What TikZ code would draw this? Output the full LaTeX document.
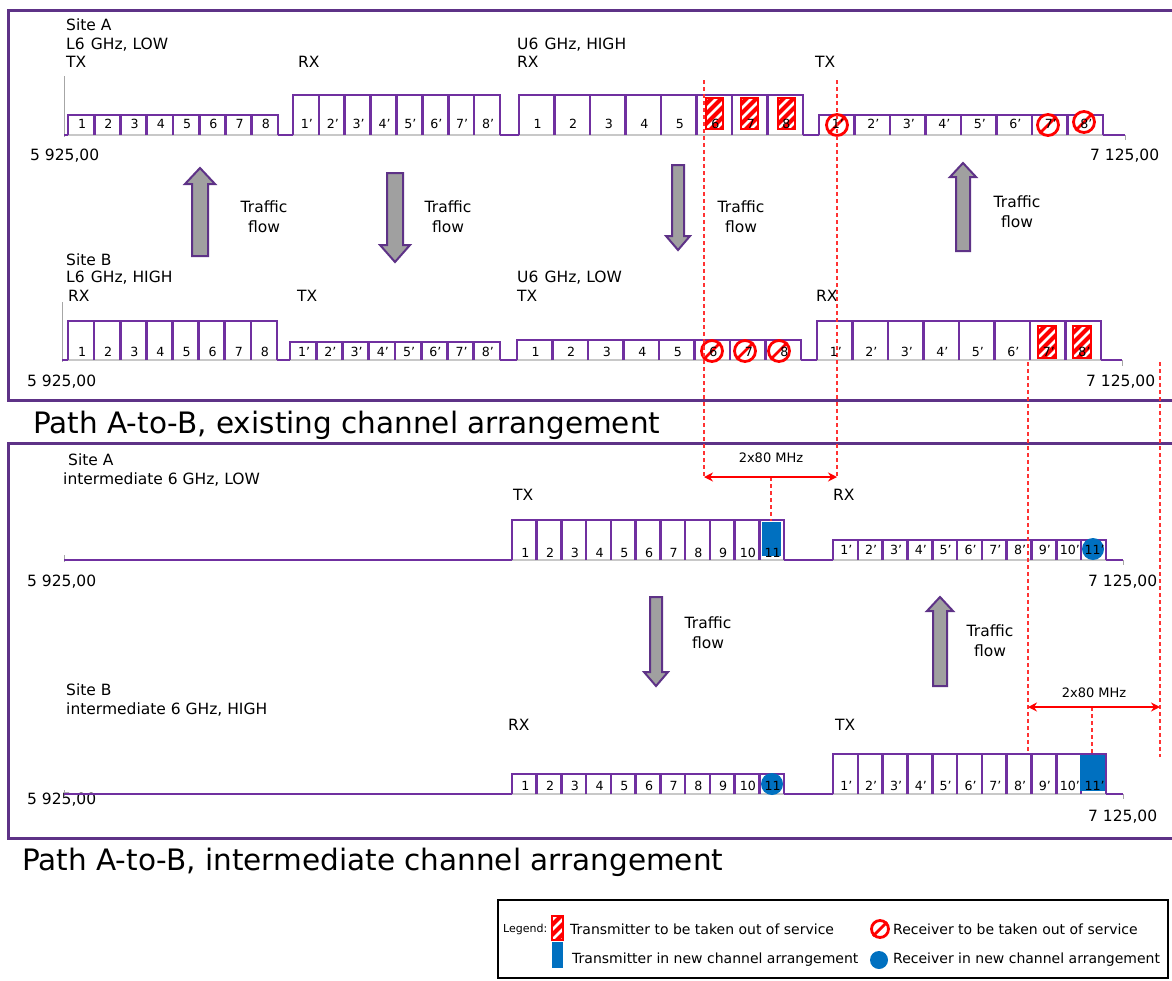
\documentclass[tikz,border=0pt]{standalone}
\usepackage{fontspec}
\setmainfont{DejaVu Sans}
\usetikzlibrary{arrows.meta}
\definecolor{chpurple}{HTML}{7030A0}
\definecolor{frpurple}{HTML}{5E3287}
\definecolor{axgray}{HTML}{C8C8C8}
\definecolor{arrgray}{HTML}{A0A0A0}
\definecolor{nblue}{HTML}{0070C0}
\pgfdeclarelayer{fg}
\pgfsetlayers{main,fg}
\tikzset{
  chan/.style={draw=chpurple, line width=2.6pt, line join=miter},
  axis/.style={draw=axgray, line width=2pt},
  tick/.style={draw=gray!70, line width=1pt},
  frame/.style={draw=frpurple, line width=3pt},
  lbl/.style={anchor=west, inner sep=0pt, font=\fontsize{15.5}{18}\selectfont},
  chlab/.style={anchor=base, inner sep=0pt, font=\fontsize{12.6}{15}\selectfont},
  title/.style={anchor=west, inner sep=0pt, font=\fontsize{29.5}{34}\selectfont},
  flowtxt/.style={align=center, inner sep=0pt, font=\fontsize{15.5}{20}\selectfont},
  flowarr/.style={fill=arrgray, draw=frpurple, line width=2pt, line join=miter},
  reddash/.style={draw=red!80!white, line width=1.3pt, dash pattern=on 4pt off 3pt},
  redarr/.style={draw=red, line width=1.6pt, {Stealth[length=9pt,width=9pt]}-{Stealth[length=9pt,width=9pt]}},
  mhz/.style={inner sep=0pt, font=\fontsize{13}{15}\selectfont},
  leg/.style={anchor=west, inner sep=0pt, font=\fontsize{14}{16}\selectfont},
}
% channel group: name, left, right, top, base, n, label y, prime
\newcommand{\chgroup}[8]{%
  \draw[chan] (#2,#5) -- (#2,#4) -- (#3,#4) -- (#3,#5);
  \pgfmathsetmacro{\cw}{(#3-#2)/#6}
  \foreach \k in {1,...,#6} {
    \pgfmathsetmacro{\cx}{#2+(\k-0.5)*\cw+1}
    \ifnum\k<#6
      \pgfmathsetmacro{\dx}{#2+\k*\cw}
      \draw[chan] (\dx,#5) -- (\dx,#4);
    \fi
    \begin{pgfonlayer}{fg}
      \node[chlab] (#1-\k) at (\cx,#7+4.5) {\k#8};
    \end{pgfonlayer}
  }
}
\newcommand{\hatchbox}[4]{%
  \begin{scope}
    \clip (#1,#2) rectangle (#3,#4);
    \fill[red] (#1,#2) rectangle (#3,#4);
    \foreach \d in {-50,-40,...,30} {
      \draw[white, line width=2.6pt] ({#1+\d},#4) -- ++(45,-45);
    }
  \end{scope}
  \draw[red, line width=1.6pt] (#1,#2) rectangle (#3,#4);
}
\newcommand{\noentry}[4]{% name, x, y, size
  \node[circle, draw=red, fill=white, line width=2.8pt, minimum size=#4pt, inner sep=0pt] (#1) at (#2,#3) {};
  \draw[red, line width=2.8pt] (#1.north east) -- (#1.south west);
}
\newcommand{\flowdown}[7]{% name,x,ytail,ytip,s,h,hl
  \draw[flowarr] (#2-#5,#3) -- (#2+#5,#3) -- (#2+#5,#4-#7) -- (#2+#6,#4-#7) -- (#2,#4) -- (#2-#6,#4-#7) -- (#2-#5,#4-#7) -- cycle;
  \coordinate (#1) at (#2,#4);
}
\newcommand{\flowup}[7]{% name,x,ytail,ytip,s,h,hl
  \draw[flowarr] (#2-#5,#3) -- (#2+#5,#3) -- (#2+#5,#4+#7) -- (#2+#6,#4+#7) -- (#2,#4) -- (#2-#6,#4+#7) -- (#2-#5,#4+#7) -- cycle;
  \coordinate (#1) at (#2,#4);
}
\begin{document}
\begin{tikzpicture}[x=1pt,y=-1pt]
\clip (0,0) rectangle (1172,980);
\fill[white] (0,0) rectangle (1172,980);

% frames
\draw[frame] (8,10) rectangle (1190,400);
\draw[frame] (8,443) rectangle (1190,838);

% ===== Top: Site A existing =====
\node[lbl] (tA-site) at (66,25) {Site A};
\node[lbl] (tA-l6) at (66,45) {L6\hspace{0.4em}GHz, LOW};
\node[lbl] (tA-tx1) at (66,62) {TX};
\node[lbl] (tA-rx1) at (298,62) {RX};
\node[lbl] (tA-u6) at (517,45) {U6\hspace{0.4em}GHz, HIGH};
\node[lbl] (tA-rx2) at (517,62) {RX};
\node[lbl] (tA-tx2) at (815,62) {TX};
\node[lbl] (tA-f1) at (30,156) {5 925,00};
\node[lbl] (tA-f2) at (1090,156) {7 125,00};

\draw[axis] (64,135) -- (1125,135);
\draw[tick] (64,76) -- (64,137);
\draw[tick] (1125,135) -- (1125,140);
\draw[chan] (64,135) -- (68,135) (278,135) -- (293,135) (500,135) -- (519,135) (803,135) -- (819,135) (1103,135) -- (1125,135);
\chgroup{ta1}{68}{278}{115}{135}{8}{124}{}
\chgroup{ta2}{293}{500}{95}{135}{8}{124}{’}
\chgroup{ta3}{519}{803}{95}{135}{8}{124}{}
\chgroup{ta4}{819}{1103}{115}{135}{8}{124}{’}
\hatchbox{706}{98}{723}{129}
\hatchbox{741}{98}{758}{129}
\hatchbox{778}{98}{795}{129}
\noentry{ne1}{837}{125}{21}
\noentry{ne2}{1048}{125}{21}
\noentry{ne3}{1084}{122}{21}

% ===== Site B existing =====
\node[lbl] (sB-site) at (66,260) {Site B};
\node[lbl] (sB-l6) at (66,278) {L6\hspace{0.4em}GHz, HIGH};
\node[lbl] (sB-rx1) at (68,296) {RX};
\node[lbl] (sB-tx1) at (297,296) {TX};
\node[lbl] (sB-u6) at (517,278) {U6\hspace{0.4em}GHz, LOW};
\node[lbl] (sB-tx2) at (517,296) {TX};
\node[lbl] (sB-rx2) at (816,296) {RX};
\node[lbl] (sB-f1) at (27,382) {5 925,00};
\node[lbl] (sB-f2) at (1086,382) {7 125,00};

\draw[axis] (62,360) -- (1122,360);
\draw[tick] (62,302) -- (62,362);
\draw[tick] (1122,360) -- (1122,366);
\draw[chan] (62,360) -- (68,360) (277,360) -- (290,360) (500,360) -- (517,360) (801,360) -- (817,360) (1101,360) -- (1122,360);
\chgroup{sb1}{68}{277}{321}{360}{8}{352}{}
\chgroup{sb2}{290}{500}{342}{360}{8}{352}{’}
\chgroup{sb3}{517}{801}{340}{360}{8}{352}{}
\chgroup{sb4}{817}{1101}{321}{360}{8}{352}{’}
\noentry{ne4}{712}{351}{21}
\noentry{ne5}{745}{351}{21}
\noentry{ne6}{779}{351}{21}
\hatchbox{1038}{326}{1056}{358}
\hatchbox{1073}{326}{1091}{358}

% traffic arrows top
\flowup{fa1}{200}{256}{168}{8}{15}{16}
\flowdown{fa2}{395}{173}{262}{8}{15}{17}
\flowdown{fa3}{678}{165}{250}{6}{12}{14}
\flowup{fa4}{963}{251}{163}{7}{13}{14}
\node[flowtxt] (ft1) at (264,217) {Traffic\\flow};
\node[flowtxt] (ft2) at (448,217) {Traffic\\flow};
\node[flowtxt] (ft3) at (741,217) {Traffic\\flow};
\node[flowtxt] (ft4) at (1017,212) {Traffic\\flow};

\node[title] (t1) at (33,425) {Path A-to-B, existing channel arrangement};

% ===== Intermediate Site A =====
\node[lbl] (iA-site) at (68,460) {Site A};
\node[lbl] (iA-l) at (63,480) {intermediate 6 GHz, LOW};
\node[lbl] (iA-tx) at (513,495) {TX};
\node[lbl] (iA-rx) at (833,495) {RX};
\node[lbl] (iA-f1) at (27,582) {5 925,00};
\node[lbl] (iA-f2) at (1088,582) {7 125,00};
\draw[tick] (64,555) -- (64,562);
\draw[tick] (1123,560) -- (1123,565);
\draw[chan] (64,560) -- (512,560) (784,560) -- (833,560) (1106,560) -- (1123,560);
\draw[axis] (512,560) -- (784,560) (833,560) -- (1106,560);
\chgroup{ia1}{512}{784}{520}{560}{11}{553}{}
\chgroup{ia2}{833}{1106}{540}{560}{11}{550}{’}
\fill[nblue] (762,522) rectangle (781,556);
\node[circle, fill=nblue, minimum size=22pt, inner sep=0pt] (bc1) at (1093,549) {};

% ===== Intermediate Site B =====
\node[lbl] (iB-site) at (66,690) {Site B};
\node[lbl] (iB-l) at (66,710) {intermediate 6 GHz, HIGH};
\node[lbl] (iB-rx) at (508,725) {RX};
\node[lbl] (iB-tx) at (835,725) {TX};
\node[lbl] (iB-f1) at (27,800) {5 925,00};
\node[lbl] (iB-f2) at (1088,817) {7 125,00};
\draw[tick] (64,790) -- (64,797);
\draw[tick] (1123,794) -- (1123,799);
\draw[chan] (64,794) -- (512,794) (784,794) -- (833,794) (1106,794) -- (1123,794);
\draw[axis] (512,794) -- (784,794) (833,794) -- (1106,794);
\chgroup{ib1}{512}{784}{774}{794}{11}{786}{}
\chgroup{ib2}{833}{1106}{754}{794}{11}{786}{’}
\node[circle, fill=nblue, minimum size=22pt, inner sep=0pt] (bc2) at (772,784) {};
\fill[nblue] (1080,755) rectangle (1105,791);

% traffic arrows lower
\flowdown{fa5}{656}{597}{686}{6}{12}{14}
\flowup{fa6}{940}{686}{597}{7}{13}{14}
\node[flowtxt] (ft5) at (708,633) {Traffic\\flow};
\node[flowtxt] (ft6) at (990,641) {Traffic\\flow};

% red dashed guides and 2x80 MHz arrows
\coordinate (d1t) at (704,80);  \coordinate (d1b) at (704,477);
\coordinate (d2t) at (837,80);  \coordinate (d2b) at (837,477);
\coordinate (d3t) at (1028,362); \coordinate (d3b) at (1028,752);
\coordinate (d4t) at (1160,362); \coordinate (d4b) at (1160,757);
\coordinate (c1t) at (771,477); \coordinate (c1b) at (771,521);
\coordinate (c2t) at (1092,707); \coordinate (c2b) at (1092,755);
\coordinate (a2l) at (1028,707); \coordinate (a2r) at (1160,707);
\draw[reddash] (d1t) -- (d1b);
\draw[reddash] (d2t) -- (d2b);
\draw[reddash] (d3t) -- (d3b);
\draw[reddash] (d4t) -- (d4b);
\draw[reddash] (c1t) -- (c1b);
\draw[reddash] (c2t) -- (c2b);
\draw[redarr] (d1b) -- (d2b);
\draw[redarr] (a2l) -- (a2r);
\node[mhz] (m1) at (771,458) {2x80 MHz};
\node[mhz] (m2) at (1094,693) {2x80 MHz};

\node[title] (t2) at (22,862) {Path A-to-B, intermediate channel arrangement};

% legend
\draw[black, line width=1.4pt] (498,900) rectangle (1168,978);
\node[leg, font=\fontsize{11}{13}\selectfont] (lg) at (503,929) {Legend:};
\hatchbox{552}{916}{563}{940}
\node[leg] (lg1) at (570,929) {Transmitter to be taken out of service};
\noentry{lgne}{880}{929}{17}
\node[leg] (lg2) at (893,929) {Receiver to be taken out of service};
\fill[nblue] (552,942) rectangle (563,968);
\node[leg] (lg3) at (572,960) {Transmitter in new channel arrangement};
\node[circle, fill=nblue, minimum size=18pt, inner sep=0pt] (lgbc) at (879,960) {};
\node[leg] (lg4) at (893,960) {Receiver in new channel arrangement};
\end{tikzpicture}
\end{document}
